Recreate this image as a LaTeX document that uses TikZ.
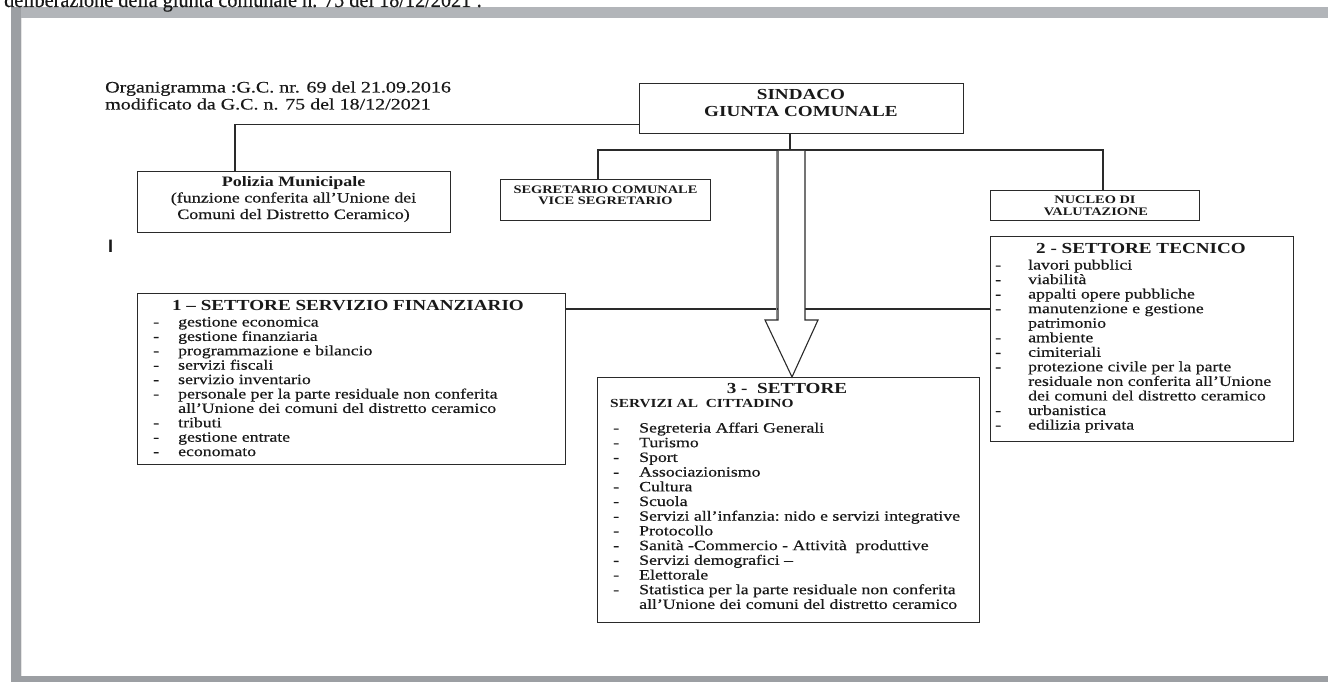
\documentclass[tikz,border=0pt]{standalone}
\usepackage{fontspec}
\setmainfont{Liberation Serif}[FakeStretch=1.25, UprightFeatures={FakeBold=0.4}]
\newfontfamily\plainserif{Liberation Serif}[FakeStretch=0.92, FakeBold=0.4]
\newfontfamily\sansI{Liberation Sans}
\definecolor{frameA}{HTML}{B2B5B9}
\definecolor{frameB}{HTML}{9C9FA3}
\definecolor{linec}{HTML}{2A2A2A}
\tikzset{
  box/.style={draw=linec, line width=1.1pt, inner sep=0pt, anchor=north west, fill=white},
  conn/.style={draw=linec, line width=1.1pt},
  txt/.style={inner sep=0pt, anchor=base west, text=black!90},
  ctxt/.style={inner sep=0pt, anchor=base, text=black!90},
  itemf/.style={font=\fontsize{14.2}{14}\selectfont},
  titlef/.style={font=\bfseries\fontsize{15.3}{15}\selectfont},
}
\begin{document}
\begin{tikzpicture}[x=1pt,y=-1pt]
\useasboundingbox (0,0) rectangle (1328,682);
\fill[white] (0,0) rectangle (1328,682);
% page frame
\fill[frameA] (11,7) rectangle (1328,18);
\fill[frameB] (11,7) rectangle (21,682);
\fill[frameB] (11,676) rectangle (1328,682);
\draw[white!90!black, line width=0.6pt] (21.3,18) -- (21.3,676);
% clipped top text
\node[txt, font=\plainserif\fontsize{22}{22}\selectfont] (toptext) at (4,7) {deliberazione della giunta comunale n. 75 del 18/12/2021 :};
% header
\node[txt, font=\fontsize{16}{16}\selectfont] (org1) at (105,92.5) {Organigramma :G.C. nr. 69 del 21.09.2016};
\node[txt, font=\fontsize{16}{16}\selectfont] (org2) at (105,109.5) {modificato da G.C. n. 75 del 18/12/2021};
% boxes
\node[box, minimum width=324pt, minimum height=50pt] (sind) at (639,83) {};
\node[ctxt, font=\bfseries\fontsize{15.3}{15}\selectfont] (sind1) at (801,100) {SINDACO};
\node[ctxt, font=\bfseries\fontsize{15.3}{15}\selectfont] (sind2) at (801,116.5) {GIUNTA COMUNALE};

\node[box, minimum width=313pt, minimum height=61pt] (pol) at (137,171) {};
\node[ctxt, font=\bfseries\fontsize{14.4}{14}\selectfont] (pol1) at (293.5,186) {Polizia Municipale};
\node[ctxt, font=\fontsize{14.4}{14}\selectfont] (pol2) at (293.5,202.5) {(funzione conferita all’Unione dei};
\node[ctxt, font=\fontsize{14.4}{14}\selectfont] (pol3) at (293.5,219) {Comuni del Distretto Ceramico)};

\node[txt, font=\sansI\bfseries\fontsize{18}{18}\selectfont] (mark) at (108,252) {I};

\node[box, minimum width=210pt, minimum height=41pt] (seg) at (500,179) {};
\node[ctxt, font=\bfseries\fontsize{11.5}{11}\selectfont] (seg1) at (605.5,193.5) {SEGRETARIO COMUNALE};
\node[ctxt, font=\bfseries\fontsize{11.5}{11}\selectfont] (seg2) at (605.5,204.5) {VICE SEGRETARIO};

\node[box, minimum width=209pt, minimum height=30pt] (nuc) at (990,190) {};
\node[ctxt, font=\bfseries\fontsize{11.5}{11}\selectfont] (nuc1) at (1095,204) {NUCLEO DI};
\node[ctxt, font=\bfseries\fontsize{11.5}{11}\selectfont] (nuc2) at (1096,215.5) {VALUTAZIONE};

% settore boxes
\node[box, minimum width=428pt, minimum height=171pt] (b1) at (137,293) {};
\node[box, minimum width=303pt, minimum height=205pt] (b2) at (990,236) {};
\node[box, minimum width=382pt, minimum height=245pt] (b3) at (597,377) {};

% connectors
\coordinate (busL) at (598,150);
\coordinate (busR) at (1103,150);
\coordinate (hub) at (790,150);
\draw[conn] ([yshift=10pt]sind.south west) -| ([xshift=98pt]pol.north west);
\draw[conn] (sind.south -| hub) -- ([yshift=-7pt]hub);
\draw[conn] (busL |- seg.north) -- (busL) -- (busR) -- (busR |- nuc.north);
\draw[conn] ([yshift=-16pt]b1.north east) -- ([yshift=-16pt]b1.north east -| b2.west);
% block arrow
\draw[black!45, line width=0.8pt] (776.5,151) -- (776.5,320);
\draw[conn, fill=white, line join=miter] (778,151) -- (778,320) -- (765,320) -- (792,377) -- (818,320) -- (805,320) -- (805,151);

% box 1 text
\node[ctxt, titlef] (b1t) at (348,310) {1 – SETTORE SERVIZIO FINANZIARIO};
\foreach \d/\t [count=\i from 0] in {-/gestione economica, -/gestione finanziaria, -/programmazione e bilancio, -/servizi fiscali, -/servizio inventario, -/personale per la parte residuale non conferita, {}/all’Unione dei comuni del distretto ceramico, -/tributi, -/gestione entrate, -/economato}{
  \node[txt, itemf] (b1d\i) at (153,{326.5+\i*14.4}) {\d};
  \node[txt, itemf] (b1i\i) at (178,{326.5+\i*14.4}) {\t};
}
% box 2 text
\node[ctxt, titlef] (b2t) at (1141,253) {2 - SETTORE TECNICO};
\foreach \d/\t [count=\i from 0] in {-/lavori pubblici, -/viabilità, -/appalti opere pubbliche, -/manutenzione e gestione, {}/patrimonio, -/ambiente, -/cimiteriali, -/protezione civile per la parte, {}/residuale non conferita all’Unione, {}/dei comuni del distretto ceramico, -/urbanistica, -/edilizia privata}{
  \node[txt, itemf] (b2d\i) at (995,{269.5+\i*14.55}) {\d};
  \node[txt, itemf] (b2i\i) at (1028,{269.5+\i*14.55}) {\t};
}
% box 3 text
\node[ctxt, titlef] (b3t) at (787,393) {3 -\ \ SETTORE};
\node[txt, font=\bfseries\fontsize{12.3}{12}\selectfont] (b3s) at (610,407) {SERVIZI AL\ \ CITTADINO};
\foreach \d/\t [count=\i from 0] in {-/Segreteria Affari Generali, -/Turismo, -/Sport, -/Associazionismo, -/Cultura, -/Scuola, -/Servizi all’infanzia:\ nido e servizi integrative, -/Protocollo, -/Sanità -Commercio - Attività\ \ produttive, -/Servizi demografici –, -/Elettorale, -/Statistica per la parte residuale non conferita, {}/all’Unione dei comuni del distretto ceramico}{
  \node[txt, itemf] (b3d\i) at (613,{432.5+\i*14.7}) {\d};
  \node[txt, itemf] (b3i\i) at (639,{432.5+\i*14.7}) {\t};
}
\end{tikzpicture}
\end{document}
